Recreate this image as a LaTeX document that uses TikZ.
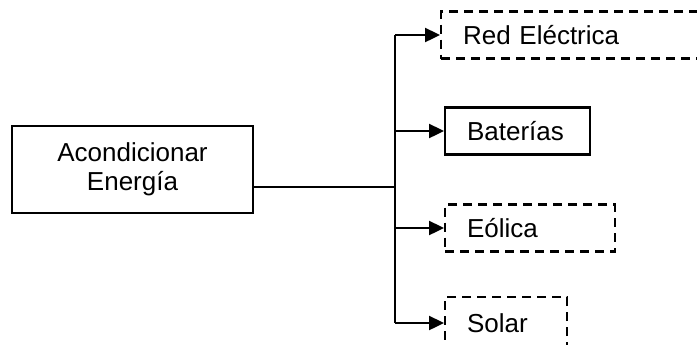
\documentclass[tikz,border=0pt]{standalone}
\usepackage{fontspec}
\setmainfont{Liberation Sans}
\usepackage{tikz}
\usetikzlibrary{positioning,arrows.meta}
\tikzset{
  mainbox/.style={draw, line width=1.3pt, minimum width=120.5pt, minimum height=43.5pt, align=center, font=\fontsize{13}{14.5}\selectfont},
  srcbox/.style={draw, line width=1.1pt, anchor=west, minimum height=23.5pt, inner xsep=11pt, text width=#1, align=left, font=\fontsize{13}{15}\selectfont},
  optbox/.style={srcbox=#1, dash pattern=on 4.5pt off 3pt},
  feed/.style={-{Triangle[length=7.5pt,width=7pt]}, line width=1.2pt},
  wire/.style={line width=1.2pt},
}
\begin{document}
\begin{tikzpicture}[x=0.5pt,y=-0.5pt]
\useasboundingbox (0,0) rectangle (697,344);
\node[mainbox] (acond) at (132.5,169.5) {Acondicionar\\Energía};
\node[optbox=113pt] (red)  at (440,35)  {Red Eléctrica};
\node[srcbox=50.5pt] (bat) at (444,131) {Baterías};
\node[optbox=63pt]  (eol)  at (444,228) {Eólica};
\node[optbox=39pt, minimum height=26pt] (sol) at (444,323) {Solar};
\coordinate (hub) at (395,187);
\draw[wire] (acond.east |- hub) -- (hub);
\draw[wire] (hub |- red) -- (hub |- sol);
\draw[feed] (hub |- red) -- (red.west);
\draw[feed] (hub |- bat) -- (bat.west);
\draw[feed] (hub |- eol) -- (eol.west);
\draw[feed] (hub |- sol) -- (sol.west);
\end{tikzpicture}
\end{document}
